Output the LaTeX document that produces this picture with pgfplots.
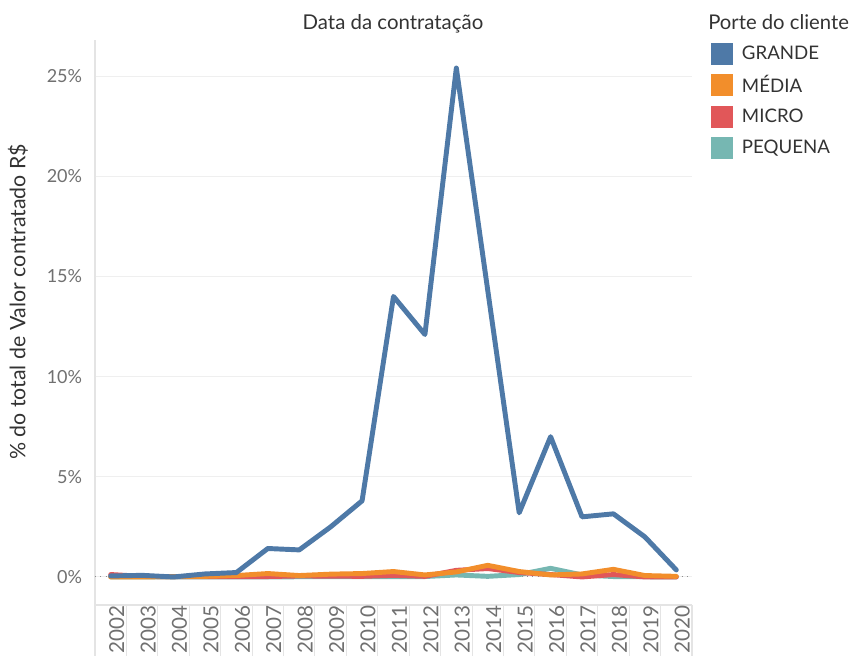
\documentclass[border=0pt]{standalone}
\usepackage{fontspec}
\setmainfont{Lato}
\usepackage{pgfplots}
\pgfplotsset{compat=1.18}
\definecolor{cG}{HTML}{4E79A7}
\definecolor{cM}{HTML}{F28E2B}
\definecolor{cR}{HTML}{E15759}
\definecolor{cP}{HTML}{76B7B2}
\definecolor{tickc}{HTML}{707070}
\definecolor{labc}{HTML}{333333}
\definecolor{gridc}{HTML}{EFEFEF}
\definecolor{axc}{HTML}{E4E4E4}
\begin{document}
\begin{tikzpicture}
\useasboundingbox (-71.25pt,-39pt) rectangle (566.25pt,453.75pt);
\begin{axis}[
  at={(0pt,0pt)}, anchor=south west,
  scale only axis, width=447.75pt, height=423.75pt,
  xmin=2001.5, xmax=2020.5, ymin=-1.4, ymax=26.8,
  axis x line*=bottom, axis y line*=left,
  axis line style={draw=axc, line width=0.8pt, -},
  xtick={2002,2003,2004,2005,2006,2007,2008,2009,2010,2011,2012,2013,2014,2015,2016,2017,2018,2019,2020},
  xticklabels={2002,2003,2004,2005,2006,2007,2008,2009,2010,2011,2012,2013,2014,2015,2016,2017,2018,2019,2020},
  minor xtick={2001.5,2002.5,2003.5,2004.5,2005.5,2006.5,2007.5,2008.5,2009.5,2010.5,2011.5,2012.5,2013.5,2014.5,2015.5,2016.5,2017.5,2018.5,2019.5,2020.5},
  major tick length=0pt, minor tick length=38pt, tick align=outside,
  minor x tick style={draw=axc, line width=0.8pt},
  ytick={0,5,10,15,20,25},
  yticklabels={0\%,5\%,10\%,15\%,20\%,25\%},
  ymajorgrids, grid style={draw=gridc, line width=0.8pt},
  y tick style={draw=none},
  tick label style={font=\fontsize{13.5}{14}\selectfont, text=tickc},
  xticklabel style={rotate=90, anchor=east, inner sep=0pt, yshift=-4.5pt, font=\fontsize{15.5}{16}\selectfont},
  yticklabel style={inner sep=0pt, xshift=-9.5pt},
  reverse legend,
  legend style={at={(1.0318,0.995)}, anchor=north west, draw=none, fill=none,
    inner sep=0pt, outer sep=0pt, row sep=7.1pt, column sep=6.75pt,
    nodes={inner sep=0pt, anchor=west, font=\fontsize{14}{15}\selectfont, text=labc}},
  legend cell align=left,
  legend image code/.code={\path[#1, draw=none, fill] (0pt,-8.25pt) rectangle (16.5pt,8.25pt);},
  every axis plot/.append style={line width=3.7pt, line join=round, line cap=round},
]
\addplot[draw=tickc!80, line width=0.8pt, dash pattern=on 0.8pt off 3.2pt, line cap=butt, forget plot] coordinates {(2001.5,0) (2020.5,0)};
\addplot[cP] coordinates {
(2002,0.0) (2003,0.0) (2004,0.0) (2005,0.0) (2006,0.0) (2007,0.0) (2008,0.01) (2009,0.01) (2010,0.01) (2011,0.02)
(2012,0.02) (2013,0.1) (2014,0.03) (2015,0.12) (2016,0.43) (2017,0.1) (2018,0.02) (2019,0.01) (2020,0.0)};
\addlegendentry{PEQUENA}
\addplot[cR] coordinates {
(2002,0.12) (2003,0.03) (2004,0.01) (2005,0.02) (2006,0.02) (2007,0.02) (2008,0.05) (2009,0.04) (2010,0.03) (2011,0.08)
(2012,0.03) (2013,0.33) (2014,0.42) (2015,0.22) (2016,0.12) (2017,0.0) (2018,0.12) (2019,0.0) (2020,0.0)};
\addlegendentry{MICRO}
\addplot[cM] coordinates {
(2002,0.0) (2003,0.0) (2004,0.02) (2005,0.03) (2006,0.07) (2007,0.17) (2008,0.07) (2009,0.14) (2010,0.17) (2011,0.27)
(2012,0.1) (2013,0.25) (2014,0.58) (2015,0.27) (2016,0.1) (2017,0.15) (2018,0.38) (2019,0.07) (2020,0.03)};
\addlegendentry{MÉDIA}
\addplot[cG] coordinates {
(2002,0.05) (2003,0.08) (2004,0.0) (2005,0.15) (2006,0.22) (2007,1.42) (2008,1.35) (2009,2.5) (2010,3.8) (2011,14.0)
(2012,12.1) (2013,25.4) (2014,14.3) (2015,3.2) (2016,7.0) (2017,3.0) (2018,3.15) (2019,2.0) (2020,0.35)};
\addlegendentry{GRANDE}
\end{axis}
\node[font=\fontsize{15.3}{16}\selectfont, text=labc] at (223.5pt,435.75pt) {Data da contratação};
\node[font=\fontsize{15.2}{16}\selectfont, text=labc, anchor=west, inner sep=0pt] at (459.75pt,437.25pt) {Porte do cliente};
\node[rotate=90, font=\fontsize{16}{17}\selectfont, text=labc] at (-57.75pt,227.25pt) {\% do total de Valor contratado R\$};
\end{tikzpicture}
\end{document}
